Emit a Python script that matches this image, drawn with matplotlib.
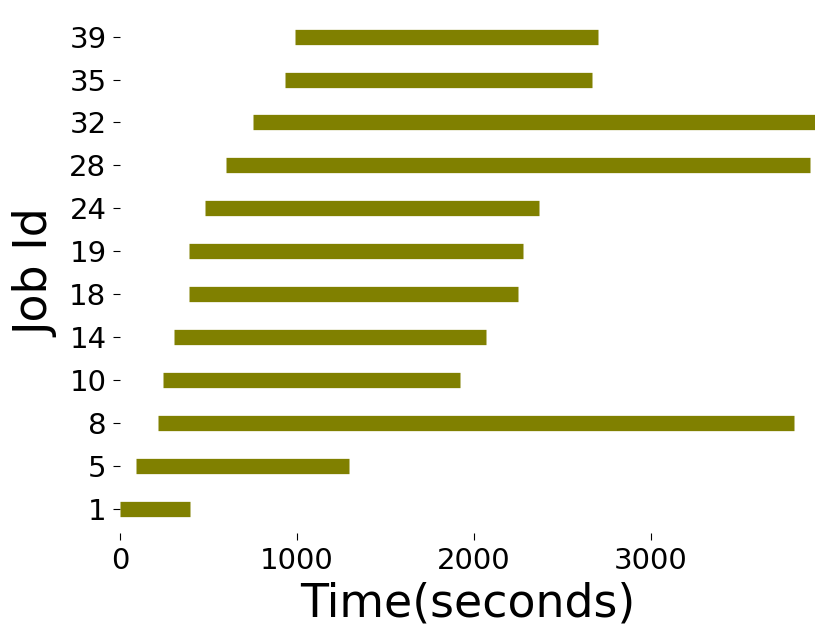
import matplotlib.pyplot as plt

job_ids = ["1", "5", "8", "10", "14", "18", "19", "24", "28", "32", "35", "39"]
start = [0, 91, 211, 240, 302, 390, 390, 481, 600, 750, 930, 990]
end = [392, 1292, 3811, 1920, 2070, 2251, 2280, 2370, 3899, 3931, 2670, 2700]

fig = plt.figure(figsize=(8.31, 6.44), dpi=100)
ax = fig.add_axes([0.1448, 0.1724, 0.8362, 0.8076])

pos = list(range(len(job_ids)))
ax.hlines(pos, start, end, colors="olive", linewidth=11)

ax.set_xlim(0, max(end))
ax.set_yticks(pos)
ax.set_yticklabels(job_ids)
ax.set_xticks([0, 1000, 2000, 3000])

for s in ax.spines.values():
    s.set_visible(False)

ax.tick_params(axis="both", labelsize=21, length=5, width=0.8, pad=5)
ax.set_xlabel("Time(seconds)", fontsize=33, labelpad=5)
ax.set_ylabel("Job Id", fontsize=33, labelpad=7)

fig.savefig("out.png", dpi=100)
